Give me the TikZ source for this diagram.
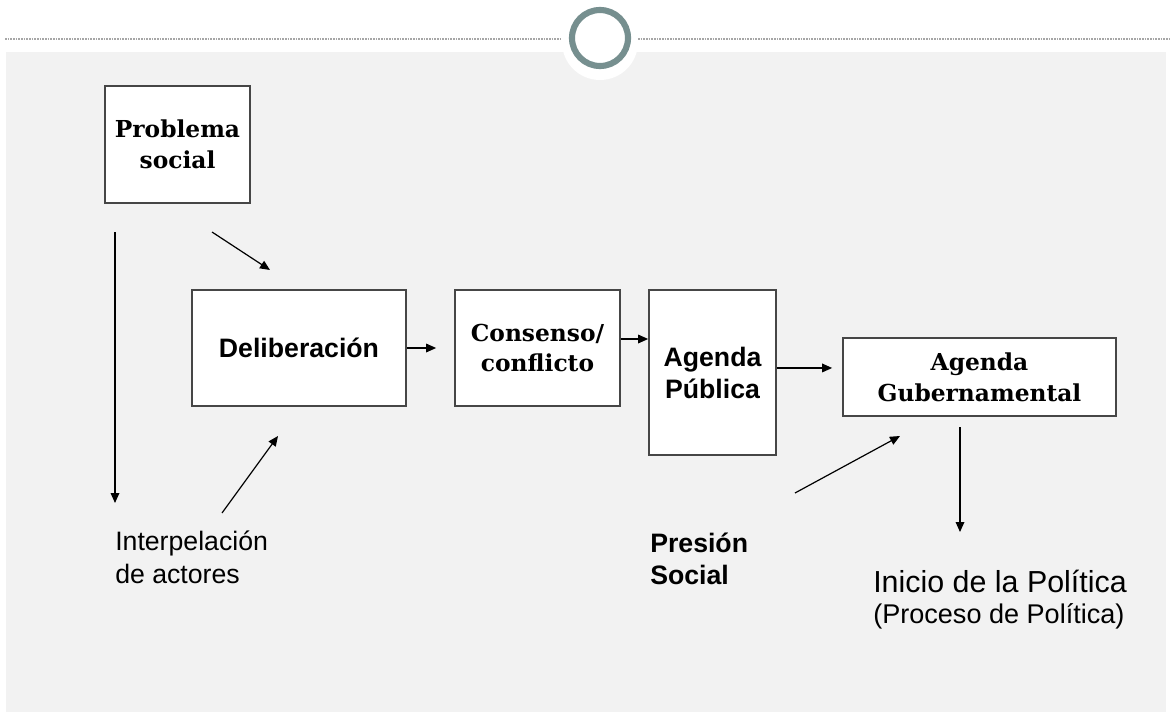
\documentclass[tikz,border=0pt]{standalone}
\usepackage{fontspec}
\newfontfamily\arialfont{Liberation Sans}
\newfontfamily\boldserif{DejaVu Serif}
\usetikzlibrary{arrows.meta}
\definecolor{ringgray}{RGB}{118,143,143}
\definecolor{bggray}{RGB}{242,242,242}
\definecolor{boxline}{RGB}{70,70,70}

\begin{document}
\begin{tikzpicture}[x=0.75pt, y=-0.75pt,
		box/.style={draw=boxline, line width=1.3pt, fill=white, inner sep=0pt, align=center},
		serifbox/.style={box, font=\boldserif\bfseries\fontsize{17.5}{23}\selectfont},
		sansbox/.style={box, font=\arialfont\bfseries\fontsize{20}{24}\selectfont},
		arr/.style={-{Triangle[length=7.5pt,width=6.5pt]}, line width=0.9pt},
		lbl/.style={anchor=west, align=left, inner sep=0pt}
		]
	% background
	\useasboundingbox (0,0) rectangle (1172,721);
	\fill[white] (0,0) rectangle (1172,721);
	\fill[bggray] (6,52) rectangle (1166,712);
	\draw[gray!70, line width=1.2pt, dash pattern=on 1.2pt off 0.8pt] (5,39) -- (565,39);
	\draw[gray!70, line width=1.2pt, dash pattern=on 1.2pt off 0.8pt] (638,39) -- (1170,39);
	\fill[white] (600,42) circle (38);
	\draw[ringgray, line width=4.6pt] (600,38) circle (28);

	% boxes
	\node [serifbox, minimum width=108.75pt, minimum height=87.75pt] (prob) at (177.5,144.5) {Problema\\social};
	\node [sansbox, minimum width=160.5pt, minimum height=87pt] (delib) at (299,348) {Deliberación};
	\node [serifbox, minimum width=123.75pt, minimum height=87pt] (cons) at (537.5,348) {Consenso/\\conflicto};
	\node [sansbox, minimum width=95.25pt, minimum height=123.75pt] (pub) at (712.5,372.5) {Agenda\\Pública};
	\node [serifbox, minimum width=204.75pt, minimum height=58.5pt] (gub) at (979.5,377) {Agenda\\Gubernamental};

	% labels
	\node [lbl, font=\arialfont\fontsize{20}{25}\selectfont] (interp) at (115,557) {Interpelación\\de actores};
	\node [lbl, font=\arialfont\bfseries\fontsize{20}{24}\selectfont] (presion) at (650,559) {Presión\\Social};
	\node [lbl, font=\arialfont\fontsize{22.8}{26}\selectfont] (inicio) at (873,581) {Inicio de la Política};
	\node [lbl, font=\arialfont\fontsize{20.3}{24}\selectfont] (proceso) at (873,616) {(Proceso de Política)};

	% free ends
	\coordinate (vtop) at (115,232);
	\coordinate (vbot) at (115,503);
	\coordinate (dtop) at (212,232);
	\coordinate (dtip) at (270,270);
	\coordinate (itail) at (222,513);
	\coordinate (itip) at (278,436);
	\coordinate (ptail) at (795,493);
	\coordinate (ptip) at (900,436);
	\coordinate (gtop) at (960,427);
	\coordinate (gbot) at (960,532);

	% connectors
	\draw [arr] (vtop) -- (vbot);
	\draw [arr] (dtop) -- (dtip);
	\draw [arr] (itail) -- (itip);
	\draw [arr, shorten >=13.5pt] (delib.east) -- (cons.west);
	\draw [arr] ([yshift=6.75pt]cons.east) -- ([yshift=6.75pt]cons.east -| pub.west);
	\draw [arr, shorten >=7.5pt] ([yshift=3.4pt]pub.east) -- ([yshift=3.4pt]pub.east -| gub.west);
	\draw [arr] (ptail) -- (ptip);
	\draw [arr] (gtop) -- (gbot);
\end{tikzpicture}
\end{document}
